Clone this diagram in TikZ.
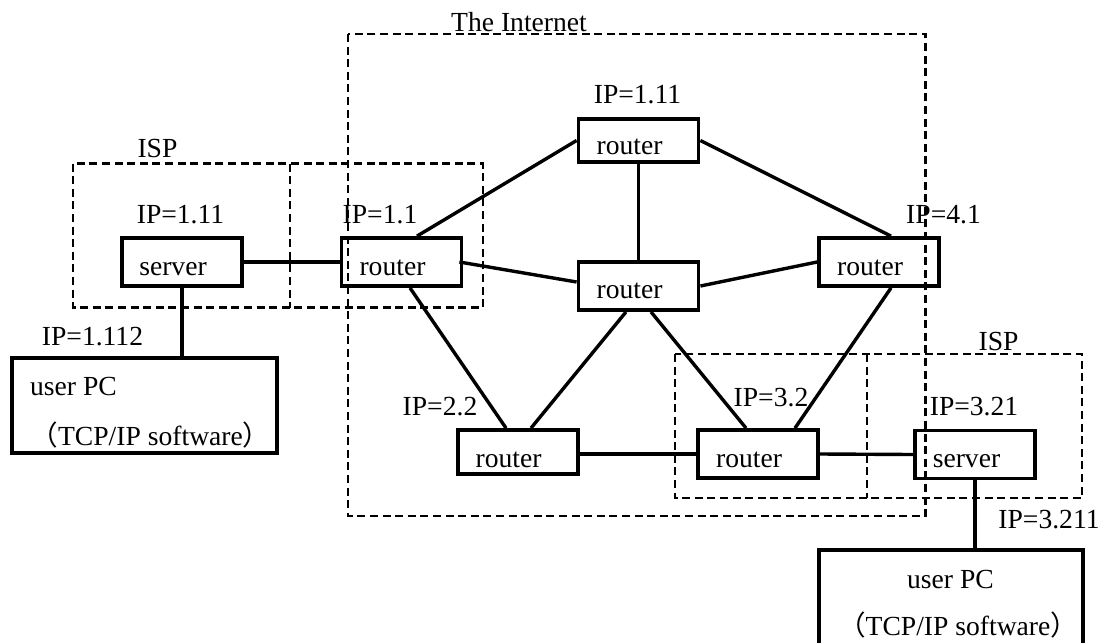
\documentclass[tikz,border=0pt]{standalone}
\usepackage{fontspec}
\setmainfont{Liberation Serif}
\newfontfamily\cjk{Noto Sans CJK SC}
\newcommand{\fwl}{{\cjk （}}
\newcommand{\fwr}{{\cjk ）}}
\begin{document}
\begin{tikzpicture}[x=0.5pt,y=-0.5pt,
  font=\fontsize{13.8}{16}\selectfont,
  box/.style={draw, line width=1.9pt, inner sep=0pt, minimum width=60pt, minimum height=24pt},
  area/.style={draw, line width=1.1pt, dash pattern=on 4pt off 2.3pt},
  link/.style={line width=1.7pt},
  txt/.style={anchor=base, inner sep=0pt}]
\useasboundingbox (0,0) rectangle (1106,642);
\clip (0,0) rectangle (1106,642);

% dashed regions
\draw[area] (348,34) rectangle (925.5,516);
\draw[area] (73,163.5) rectangle (483,307.5);
\draw[area] (290,163.5) -- (290,307.5);
\draw[area] (675,354) rectangle (1082,498);
\draw[area] (867,354) -- (867,498);

% region titles
\node[txt] (tInternet) at (519,32) {The Internet};
\node[txt] (tIspL) at (157.5,157) {ISP};
\node[txt] (tIspR) at (998.5,350) {ISP};

% equipment boxes
\node[box] (srvL) at (182,262) {};
\node[box] (rL) at (401.5,262) {};
\node[box, minimum height=21.5pt] (rT) at (638.5,140.5) {};
\node[box] (rC) at (638.5,286) {};
\node[box] (rR) at (879,262) {};
\node[box, minimum height=22pt] (rBL) at (518,452) {};
\node[box] (rBR) at (758,454) {};
\node[box] (srvR) at (975,454.5) {};
\node[box, minimum width=132.5pt, minimum height=47.5pt] (pcL) at (144.5,405.5) {};
\node[box, minimum width=132pt, minimum height=50pt] (pcR) at (951,600) {};

% box captions
\node[txt] (cSrvL) at ([xshift=-4.5pt,yshift=-6.5pt]srvL.center) {server};
\node[txt] (cRL) at ([xshift=-4.5pt,yshift=-6.5pt]rL.center) {router};
\node[txt] (cRT) at ([xshift=-4.5pt,yshift=-6.75pt]rT.center) {router};
\node[txt] (cRC) at ([xshift=-4.5pt,yshift=-6.25pt]rC.center) {router};
\node[txt] (cRR) at ([xshift=-4.5pt,yshift=-6.5pt]rR.center) {router};
\node[txt] (cRBL) at ([xshift=-4.75pt,yshift=-7.75pt]rBL.center) {router};
\node[txt] (cRBR) at ([xshift=-4.5pt,yshift=-6.75pt]rBR.center) {router};
\node[txt] (cSrvR) at ([xshift=-4.25pt,yshift=-6.5pt]srvR.center) {server};
\node[txt] (cPcL1) at (73.5,395) {user PC};
\node[txt] (cPcL2) at (150.5,445) {\fwl TCP/IP software\fwr};
\node[txt] (cPcR1) at (950.5,588) {user PC};
\node[txt] (cPcR2) at (958,635) {\fwl TCP/IP software\fwr};

% addresses
\node[txt] (aSrvL) at (180.5,223) {IP=1.11};
\node[txt] (aRL) at (380,223) {IP=1.1};
\node[txt] (aRT) at (637.5,104) {IP=1.11};
\node[txt] (aRR) at (943.5,223) {IP=4.1};
\node[txt] (aRBL) at (440,415) {IP=2.2};
\node[txt] (aRBR) at (771,406) {IP=3.2};
\node[txt] (aSrvR) at (974,415) {IP=3.21};
\node[txt] (aPcL) at (92.5,345) {IP=1.112};
\node[txt] (aPcR) at (1049,528) {IP=3.211};

% links
\draw[link] (srvL.east) -- (rL.west);
\draw[link] (srvL.south) -- (srvL.south |- pcL.north);
\draw[link] ([xshift=7.75pt]rL.north) -- (rT.west);
\draw[link] (rT.east) -- ([xshift=6pt]rR.north);
\draw[link] (rT.south) -- (rC.north);
\draw[link] ([xshift=-2pt]rL.east) -- ([yshift=2pt]rC.west);
\draw[link] (rC.east) -- (rR.west);
\draw[link] ([xshift=4.25pt]rL.south) -- ([xshift=-6pt]rBL.north);
\draw[link] ([xshift=-6.25pt]rC.south) -- ([xshift=6.5pt]rBL.north);
\draw[link] ([xshift=6.25pt]rC.south) -- ([xshift=-6pt]rBR.north);
\draw[link] ([xshift=6pt]rR.south) -- ([xshift=18.5pt]rBR.north);
\draw[link] (rBR.west) -- (rBR.west -| rBL.east);
\draw[link] (rBR.east) -- (srvR.west);
\draw[link] (srvR.south) -- (srvR.south |- pcR.north);
\end{tikzpicture}
\end{document}
